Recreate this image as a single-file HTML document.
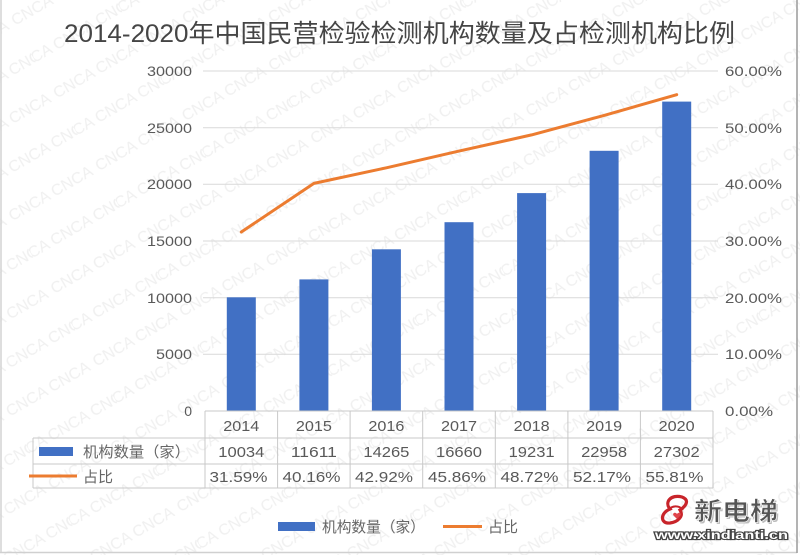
<!DOCTYPE html>
<html>
<head>
<meta charset="utf-8">
<style>
html,body{margin:0;padding:0;background:#fff;width:800px;height:555px;overflow:hidden;}
svg{display:block;overflow:hidden;}
text{font-family:"Liberation Sans","Noto Sans CJK SC",sans-serif;}
</style>
</head>
<body>
<svg width="800" height="555" viewBox="0 0 800 555" xmlns="http://www.w3.org/2000/svg">
<defs>
<pattern id="wm" x="0" y="0" width="100" height="84" patternUnits="userSpaceOnUse" patternTransform="rotate(-30)">
<text x="0" y="30" font-size="16" fill="#f0f0f0" font-family="Liberation Sans, sans-serif">CNCA CNCA</text>
<text x="-25" y="72" font-size="16" fill="#f0f0f0" font-family="Liberation Sans, sans-serif">CNCA CNCA CNCA</text>
</pattern>
</defs>
<rect x="0" y="0" width="800" height="555" fill="#ffffff"/>
<rect x="0" y="0" width="800" height="555" fill="url(#wm)"/>

<!-- frame -->
<line x1="1" y1="0" x2="1" y2="553" stroke="#d4d4d4" stroke-width="1.5"/>
<line x1="0" y1="552.5" x2="797" y2="552.5" stroke="#d0d0d0" stroke-width="1.5"/>
<line x1="797" y1="0" x2="797" y2="553" stroke="#9a9a9a" stroke-width="1.5"/>

<!-- title -->
<text x="64" y="42" font-size="25" fill="#454545" textLength="671" lengthAdjust="spacingAndGlyphs" font-family="Liberation Sans, Noto Sans CJK SC, sans-serif">2014-2020年中国民营检验检测机构数量及占检测机构比例</text>

<!-- gridlines -->
<g stroke="#d9d9d9" stroke-width="1">
<line x1="203" y1="71" x2="718" y2="71"/>
<line x1="203" y1="127.7" x2="718" y2="127.7"/>
<line x1="203" y1="184.3" x2="718" y2="184.3"/>
<line x1="203" y1="241" x2="718" y2="241"/>
<line x1="203" y1="297.7" x2="718" y2="297.7"/>
<line x1="203" y1="354.3" x2="718" y2="354.3"/>
</g>

<!-- left axis labels -->
<g font-size="14" fill="#595959" text-anchor="end">
<text x="192" y="76" textLength="45" lengthAdjust="spacingAndGlyphs">30000</text>
<text x="192" y="133" textLength="45" lengthAdjust="spacingAndGlyphs">25000</text>
<text x="192" y="189" textLength="45" lengthAdjust="spacingAndGlyphs">20000</text>
<text x="192" y="246" textLength="45" lengthAdjust="spacingAndGlyphs">15000</text>
<text x="192" y="303" textLength="45" lengthAdjust="spacingAndGlyphs">10000</text>
<text x="192" y="359" textLength="36" lengthAdjust="spacingAndGlyphs">5000</text>
<text x="192" y="416">0</text>
</g>

<!-- right axis labels -->
<g font-size="14" fill="#595959">
<text x="725" y="76" textLength="57" lengthAdjust="spacingAndGlyphs">60.00%</text>
<text x="725" y="133" textLength="57" lengthAdjust="spacingAndGlyphs">50.00%</text>
<text x="725" y="189" textLength="57" lengthAdjust="spacingAndGlyphs">40.00%</text>
<text x="725" y="246" textLength="57" lengthAdjust="spacingAndGlyphs">30.00%</text>
<text x="725" y="303" textLength="57" lengthAdjust="spacingAndGlyphs">20.00%</text>
<text x="725" y="359" textLength="57" lengthAdjust="spacingAndGlyphs">10.00%</text>
<text x="725" y="416" textLength="48" lengthAdjust="spacingAndGlyphs">0.00%</text>
</g>

<!-- bars -->
<g fill="#4170c4">
<rect x="226.8" y="297.3" width="29" height="113.7"/>
<rect x="299.4" y="279.4" width="29" height="131.6"/>
<rect x="371.9" y="249.3" width="29" height="161.7"/>
<rect x="444.5" y="222.2" width="29" height="188.8"/>
<rect x="517.1" y="193.1" width="29" height="217.9"/>
<rect x="589.6" y="150.8" width="29" height="260.2"/>
<rect x="662.2" y="101.6" width="29" height="309.4"/>
</g>

<!-- line -->
<polyline points="241.3,232 313.9,183.4 386.4,167.8 459,151.1 531.6,134.9 604.1,115.4 676.7,94.7" fill="none" stroke="#ec7c30" stroke-width="3" stroke-linejoin="round" stroke-linecap="round"/>

<!-- data table -->
<g stroke="#c8c8c8" stroke-width="1" fill="none">
<line x1="205" y1="411" x2="713" y2="411"/>
<line x1="33" y1="438" x2="713" y2="438"/>
<line x1="33" y1="464" x2="713" y2="464"/>
<line x1="33" y1="488" x2="713" y2="488"/>
<line x1="33" y1="438" x2="33" y2="488"/>
<line x1="205" y1="411" x2="205" y2="488"/>
<line x1="277.6" y1="411" x2="277.6" y2="488"/>
<line x1="350.1" y1="411" x2="350.1" y2="488"/>
<line x1="422.7" y1="411" x2="422.7" y2="488"/>
<line x1="495.3" y1="411" x2="495.3" y2="488"/>
<line x1="567.9" y1="411" x2="567.9" y2="488"/>
<line x1="640.4" y1="411" x2="640.4" y2="488"/>
<line x1="713" y1="411" x2="713" y2="488"/>
</g>

<g font-size="15" fill="#595959" text-anchor="middle">
<text x="241.3" y="431" textLength="36" lengthAdjust="spacingAndGlyphs">2014</text>
<text x="313.9" y="431" textLength="36" lengthAdjust="spacingAndGlyphs">2015</text>
<text x="386.4" y="431" textLength="36" lengthAdjust="spacingAndGlyphs">2016</text>
<text x="459" y="431" textLength="36" lengthAdjust="spacingAndGlyphs">2017</text>
<text x="531.6" y="431" textLength="36" lengthAdjust="spacingAndGlyphs">2018</text>
<text x="604.1" y="431" textLength="36" lengthAdjust="spacingAndGlyphs">2019</text>
<text x="676.7" y="431" textLength="36" lengthAdjust="spacingAndGlyphs">2020</text>

<text x="241.3" y="457" textLength="46" lengthAdjust="spacingAndGlyphs">10034</text>
<text x="313.9" y="457" textLength="46" lengthAdjust="spacingAndGlyphs">11611</text>
<text x="386.4" y="457" textLength="46" lengthAdjust="spacingAndGlyphs">14265</text>
<text x="459" y="457" textLength="46" lengthAdjust="spacingAndGlyphs">16660</text>
<text x="531.6" y="457" textLength="46" lengthAdjust="spacingAndGlyphs">19231</text>
<text x="604.1" y="457" textLength="46" lengthAdjust="spacingAndGlyphs">22958</text>
<text x="676.7" y="457" textLength="46" lengthAdjust="spacingAndGlyphs">27302</text>

<text x="238.5" y="482" textLength="58" lengthAdjust="spacingAndGlyphs">31.59%</text>
<text x="311.5" y="482" textLength="58" lengthAdjust="spacingAndGlyphs">40.16%</text>
<text x="384" y="482" textLength="58" lengthAdjust="spacingAndGlyphs">42.92%</text>
<text x="457" y="482" textLength="58" lengthAdjust="spacingAndGlyphs">45.86%</text>
<text x="529.5" y="482" textLength="58" lengthAdjust="spacingAndGlyphs">48.72%</text>
<text x="602" y="482" textLength="58" lengthAdjust="spacingAndGlyphs">52.17%</text>
<text x="674.5" y="482" textLength="58" lengthAdjust="spacingAndGlyphs">55.81%</text>
</g>

<!-- table row labels -->
<rect x="39" y="447" width="34" height="9" fill="#4170c4"/>
<text x="83" y="457" font-size="15" fill="#666666" textLength="107" lengthAdjust="spacingAndGlyphs">机构数量（家）</text>
<line x1="29" y1="476" x2="77" y2="476" stroke="#ec7c30" stroke-width="3"/>
<text x="83" y="482" font-size="15" fill="#666666">占比</text>

<!-- bottom legend -->
<rect x="278" y="522" width="37" height="9" fill="#4170c4"/>
<text x="322" y="532" font-size="15" fill="#666666" textLength="103" lengthAdjust="spacingAndGlyphs">机构数量（家）</text>
<line x1="443" y1="526.5" x2="482" y2="526.5" stroke="#ec7c30" stroke-width="3"/>
<text x="488" y="532" font-size="15" fill="#666666">占比</text>

<!-- logo -->
<g>
<path d="M682 497 C671 494 664 502 670 509 C660 513 660 524 670 523 C678 522 684 516 680 510 C686 506 690 500 682 497 Z" fill="none" stroke="#c8242a" stroke-width="3.2"/>
<path d="M667 511 C672 505 679 505 683 510" fill="none" stroke="#c8242a" stroke-width="2"/>
<path d="M677 514 c1.5 -2.5 5 -1 3.5 1.5 l-3.5 3.5 l-3.5 -3.5 c-1.5 -2.5 2 -4 3.5 -1.5 z" fill="#e0454b"/>
<text x="694" y="520" font-size="25" font-weight="bold" fill="#bdbdbd" textLength="84" lengthAdjust="spacingAndGlyphs" font-family="Noto Sans CJK SC, sans-serif" transform="translate(1.5,1.5)">新电梯</text>
<text x="694" y="520" font-size="25" font-weight="bold" fill="#555555" stroke="#ffffff" stroke-width="0.6" textLength="84" lengthAdjust="spacingAndGlyphs" font-family="Noto Sans CJK SC, sans-serif">新电梯</text>
<text x="655" y="539" font-size="12" font-weight="bold" fill="#ffffff" stroke="#444444" stroke-width="2.2" paint-order="stroke" textLength="133" lengthAdjust="spacingAndGlyphs">www.xindianti.cn</text>
</g>
</svg>
</body>
</html>
